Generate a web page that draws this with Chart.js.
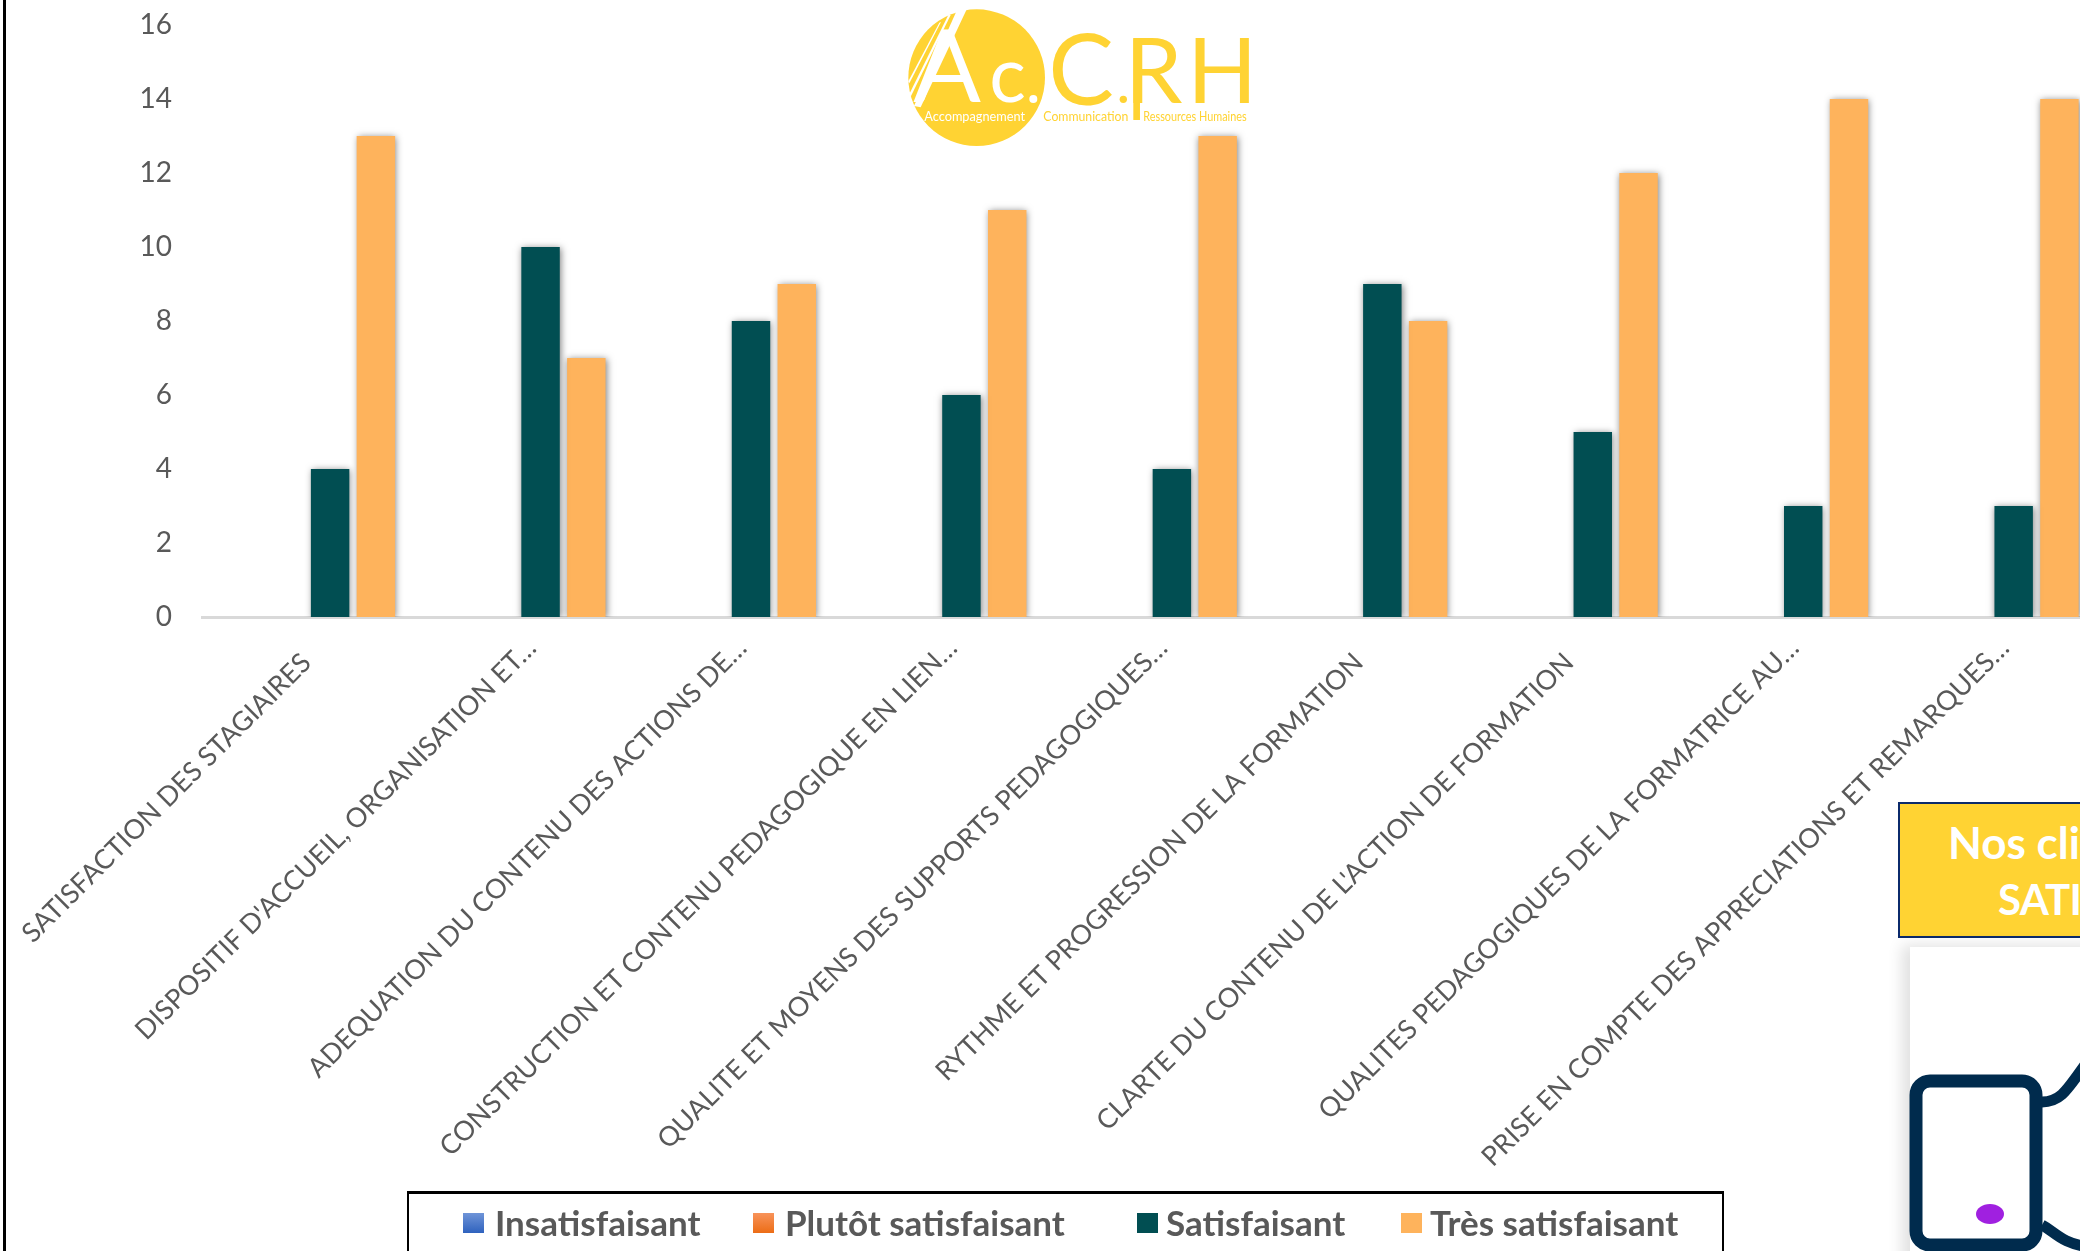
<!DOCTYPE html>
<html lang="fr">
<head>
<meta charset="UTF-8">
<title>Satisfaction des stagiaires</title>
<script src="https://cdn.jsdelivr.net/npm/chart.js"></script>
<style>
  html, body { margin: 0; width: 2080px; height: 1251px; overflow: hidden; background: #fff; font-family: Lato, sans-serif; }
  #page { position: relative; width: 2080px; height: 1251px; overflow: hidden; }
  canvas { position: absolute; left: 0; top: 0; }
  #leftline { position: absolute; left: 3px; top: 0; width: 3px; height: 1251px; background: #000; }
  #legend { position: absolute; left: 407px; top: 1191px; width: 1317px; height: 80px; border: 2px solid #000; border-top-width: 3px; background: #fff; box-sizing: border-box; }
  .lg-box { position: absolute; top: 1213px; width: 21px; height: 20px; }
  .lg-txt { position: absolute; top: 1202px; font-size: 35px; line-height: 40px; font-weight: 700; color: #595959; white-space: nowrap; }
  #callout { position: absolute; left: 1898px; top: 802px; width: 400px; height: 136px; background: #FFD333; border: 2px solid #0B2A6B; box-sizing: border-box; }
  .co-txt { position: absolute; font-size: 44px; line-height: 50px; font-weight: 700; color: #fff; white-space: nowrap; }
  #panel { position: absolute; left: 1910px; top: 947px; width: 400px; height: 400px; background: #fff; box-shadow: -8px -2px 14px rgba(0,0,0,.12); }
  svg { position: absolute; left: 0; top: 0; }
</style>
</head>
<body>
<div id="page">
  <canvas id="myChart"></canvas>
  <div id="leftline"></div>
  <div id="legend"></div>
  <div id="callout"></div>
  <div class="co-txt" style="left:1948px;top:817px">Nos clients</div>
  <div class="co-txt" style="left:1998px;top:874px;font-size:42px;letter-spacing:-0.8px">SATISFAITS</div>
  <div id="panel"></div>
  <svg width="2080" height="1251">
    <!-- thumb icon -->
    <rect x="1916" y="1081" width="120" height="164" rx="14" fill="#fff" stroke="#002B4D" stroke-width="13"/>
    <ellipse cx="1990" cy="1214" rx="14" ry="10" fill="#A020E0"/>
    <path d="M2042 1102 C2062 1102 2068 1088 2090 1058" fill="none" stroke="#002B4D" stroke-width="11"/>
    <path d="M2042 1225 C2055 1232 2062 1244 2090 1247" fill="none" stroke="#002B4D" stroke-width="11"/>
    <!-- logo, coordinates in zoom units -->
    <g transform="translate(880,0) scale(0.3333)">
      <circle cx="290" cy="233" r="205" fill="#FFD333"/>
      <path d="M232 28 L262 24 L122 322 L102 318 Z" fill="#fff"/>
      <path d="M205 45 L212 45 L92 290 L88 282 Z" fill="#fff"/>
      <path d="M178 68 L183 66 L88 250 L85 244 Z" fill="#fff"/>
      <text x="100" y="305" font-size="300" font-weight="400" fill="#fff">A</text>
      <text x="328" y="305" font-size="230" font-weight="400" fill="#fff">c</text>
      <circle cx="460" cy="297" r="12" fill="#fff"/>
      <text x="133" y="362" font-size="38" font-weight="400" fill="#fff" textLength="302" lengthAdjust="spacingAndGlyphs">Accompagnement</text>
      <g fill="#FFD333">
        <text x="505" y="314" font-size="295" font-weight="400">C</text>
        <circle cx="730" cy="298" r="11"/>
        <text x="735" y="308" font-size="275" font-weight="400">R</text>
        <rect x="760" y="115" width="20" height="245"/>
        <text x="922" y="308" font-size="275" font-weight="400">H</text>
        <text x="490" y="362" font-size="38" font-weight="400" textLength="255" lengthAdjust="spacingAndGlyphs">Communication</text>
        <text x="790" y="362" font-size="38" font-weight="400" textLength="310" lengthAdjust="spacingAndGlyphs">Ressources Humaines</text>
      </g>
    </g>
  </svg>
</div>
<script>
  // Data
  const categories = [
    "SATISFACTION DES STAGIAIRES",
    "DISPOSITIF D'ACCUEIL, ORGANISATION ET…",
    "ADEQUATION DU CONTENU DES ACTIONS DE…",
    "CONSTRUCTION ET CONTENU PEDAGOGIQUE EN LIEN…",
    "QUALITE ET MOYENS DES SUPPORTS PEDAGOGIQUES…",
    "RYTHME ET PROGRESSION DE LA FORMATION",
    "CLARTE DU CONTENU DE L'ACTION DE FORMATION",
    "QUALITES PEDAGOGIQUES DE LA FORMATRICE AU…",
    "PRISE EN COMPTE DES APPRECIATIONS ET REMARQUES…"
  ];
  const insatisfaisant = [0, 0, 0, 0, 0, 0, 0, 0, 0];
  const plutotSatisfaisant = [0, 0, 0, 0, 0, 0, 0, 0, 0];
  const satisfaisant = [4, 10, 8, 6, 4, 9, 5, 3, 3];
  const tresSatisfaisant = [13, 7, 9, 11, 13, 8, 12, 14, 14];
  const legendNames = ["Insatisfaisant", "Plutôt satisfaisant", "Satisfaisant", "Très satisfaisant"];

  // legend frame holds irregular gaps, so it is laid out by hand
  const legendFill = [
    "linear-gradient(#6F94D8, #2F62BE)",
    "linear-gradient(#F8935A, #EC6D16)",
    "#014E52",
    "#FEB35C"
  ];
  const legendBoxX = [463, 753, 1137, 1401];
  const legendTextX = [495, 785, 1166, 1430];
  const page = document.getElementById('page');
  legendNames.forEach((name, i) => {
    const b = document.createElement('div');
    b.className = 'lg-box';
    b.style.left = legendBoxX[i] + 'px';
    b.style.background = legendFill[i];
    page.appendChild(b);
    const t = document.createElement('div');
    t.className = 'lg-txt';
    t.style.left = legendTextX[i] + 'px';
    t.textContent = name;
    page.appendChild(t);
  });

  // soft shadow on the bars
  const barShadow = {
    id: 'barShadow',
    beforeDatasetDraw(chart) {
      const c = chart.ctx;
      c.save();
      c.shadowColor = 'rgba(0,0,0,0.5)';
      c.shadowBlur = 7;
      c.shadowOffsetX = 1;
      c.shadowOffsetY = 1;
    },
    afterDatasetDraw(chart) {
      chart.ctx.restore();
    }
  };

  // keep the plot area where the scales put it, long labels must not push it
  function noPadding(s) {
    s.paddingLeft = 0;
    s.paddingRight = 0;
    s.paddingTop = 0;
    s.paddingBottom = 0;
  }

  const config = {
    type: 'bar',
    data: {
      labels: categories,
      datasets: [
        { label: legendNames[0], data: insatisfaisant, backgroundColor: '#4472C4' },
        { label: legendNames[1], data: plutotSatisfaisant, backgroundColor: '#ED7D31' },
        { label: legendNames[2], data: satisfaisant, backgroundColor: '#014E52' },
        { label: legendNames[3], data: tresSatisfaisant, backgroundColor: '#FEB35C' }
      ]
    },
    options: {
      responsive: false,
      animation: false,
      categoryPercentage: 0.87,
      barPercentage: 0.84,
      layout: { padding: { top: 25, left: 0, right: 0, bottom: 0 } },
      plugins: { legend: { display: false }, tooltip: { enabled: false } },
      scales: {
        x: {
          grid: { display: false, drawTicks: false },
          border: { color: '#D9D9D9', width: 3 },
          afterFit(s) { s.height = 634; noPadding(s); },
          ticks: {
            autoSkip: false, minRotation: 45, maxRotation: 45, padding: 15, labelOffset: 14,
            color: '#595959', font: { family: 'Lato', size: 27 },
            // labels cut with an ellipsis sit a little further out than the whole ones
            callback(value) {
              const name = categories[value];
              return name.endsWith('…') ? name : name + '\u00A0\u00A0\u00A0';
            }
          }
        },
        y: {
          min: 0, max: 16,
          grid: { display: false, drawTicks: false },
          border: { display: false },
          afterFit(s) { s.width = 202; noPadding(s); },
          ticks: {
            stepSize: 2, padding: 30,
            color: '#595959', font: { family: 'Lato', size: 28 }
          }
        }
      }
    },
    plugins: [barShadow]
  };

  const canvas = document.getElementById('myChart');
  canvas.width = 2096;
  canvas.height = 1251;
  canvas.style.width = '2096px';
  canvas.style.height = '1251px';
  const myChart = new Chart(canvas.getContext('2d'), config);
</script>
</body>
</html>
